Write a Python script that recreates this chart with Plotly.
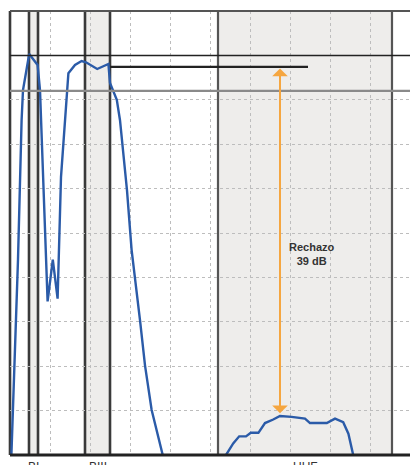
import plotly.graph_objects as go

# Frequency axis in grid divisions, response in dB
band_edges = [(0.475, 0.70), (1.875, 2.50), (5.20, 9.55)]
band_labels = ["BI", "BIII", "UHF"]

resp_x = [0.02, 0.07, 0.20, 0.29, 0.325, 0.48, 0.69, 0.75, 0.94, 1.07, 1.19, 1.275,
          1.42, 1.46, 1.625, 1.79, 1.90, 2.18, 2.46, 2.50, 2.67, 2.75, 2.925, 3.04,
          3.25, 3.375, 3.54, 3.83, 3.90,
          None,
          5.33, 5.40, 5.58, 5.73, 5.90, 6.02, 6.21, 6.375, 6.58, 6.75, 7.04, 7.375,
          7.50, 7.92, 8.125, 8.33, 8.46, 8.58, 8.62]
resp_db = [-52.0, -44.9, -28.0, -12.3, -8.9, -4.84, -6.08, -8.9, -32.7, -28.0, -32.4, -18.7,
           -10.0, -7.0, -6.08, -5.63, -5.78, -6.53, -5.97, -8.1, -10.0, -12.3, -20.2, -26.9,
           -34.8, -39.9, -44.9, -50.0, -51.5,
           None,
           -51.5, -50.0, -48.7, -47.9, -47.9, -47.5, -47.5, -46.4, -46.0, -45.6, -45.7, -45.9,
           -46.4, -46.4, -45.9, -46.3, -47.6, -50.0, -51.5]

ref_level = -6.3          # passband reference level
rejection_db = 39         # rejection in UHF
marker_x = 6.75
level_lines = [(-5.0, "#222222", 1.5), (-9.0, "#8a8a8a", 2.2)]

fig = go.Figure()
fig.add_trace(go.Scatter(x=resp_x, y=resp_db, mode="lines",
                         line=dict(color="#2b5ba8", width=2.4),
                         connectgaps=False, hoverinfo="skip", showlegend=False))

shapes = []
# shaded bands
for x0, x1 in band_edges:
    shapes.append(dict(type="rect", xref="x", yref="paper", x0=x0, x1=x1, y0=0, y1=1,
                       fillcolor="#eeedeb", line_width=0, layer="below"))
# band edges
for i, (x0, x1) in enumerate(band_edges):
    w = 2.6 if i < 2 else 2.2
    col = "#3a3a3a" if i < 2 else "#555555"
    for xv in (x0, x1):
        shapes.append(dict(type="line", xref="x", yref="paper", x0=xv, x1=xv, y0=0, y1=1,
                           line=dict(color=col, width=w), layer="between"))
# level lines across the whole width
for yv, col, w in level_lines:
    shapes.append(dict(type="line", xref="paper", yref="y", x0=0, x1=1, y0=yv, y1=yv,
                       line=dict(color=col, width=w), layer="above"))
# passband reference line
shapes.append(dict(type="line", xref="x", yref="y", x0=band_edges[1][1], x1=7.45,
                   y0=ref_level, y1=ref_level, line=dict(color="#222222", width=2.2)))
# frame
shapes.append(dict(type="line", xref="paper", yref="paper", x0=0, x1=1, y0=1, y1=1,
                   line=dict(color="#555555", width=2.2)))
shapes.append(dict(type="line", xref="paper", yref="paper", x0=0, x1=0, y0=0, y1=1,
                   line=dict(color="#3a3a3a", width=2.6), layer="below"))
shapes.append(dict(type="line", xref="paper", yref="paper", x0=0, x1=1, y0=0, y1=0,
                   line=dict(color="#222222", width=3)))

annotations = [
    dict(x=marker_x, y=ref_level - rejection_db, ax=marker_x, ay=ref_level,
         xref="x", yref="y", axref="x", ayref="y", text="", showarrow=True,
         arrowhead=1, startarrowhead=1, arrowside="end+start", arrowsize=1.3,
         startarrowsize=1.3, arrowwidth=2, arrowcolor="#f5a640",
         standoff=0, startstandoff=0),
    dict(x=7.55, y=-27.4, xref="x", yref="y", showarrow=False,
         text=f"<b>Rechazo<br>{rejection_db} dB</b>",
         font=dict(family="Liberation Sans, Arial, sans-serif", size=11, color="#333333")),
]
for (x0, x1), lab in zip(band_edges, band_labels):
    annotations.append(dict(x=(x0 + x1) / 2, y=-0.006, xref="x", yref="paper",
                            yanchor="top", showarrow=False, text=lab,
                            font=dict(family="Liberation Sans, Arial, sans-serif",
                                      size=12, color="#333333")))

fig.update_layout(
    width=410, height=465,
    margin=dict(l=10, r=0, t=11, b=10),
    paper_bgcolor="white", plot_bgcolor="white",
    shapes=shapes, annotations=annotations, showlegend=False,
)
fig.update_xaxes(range=[0, 10], dtick=1, tick0=0, showticklabels=False, ticks="",
                 showgrid=True, gridcolor="#bdbdbd", gridwidth=1, griddash="3px,3px",
                 zeroline=False, showline=False, fixedrange=True)
fig.update_yaxes(range=[-50, 0], dtick=5, tick0=0, showticklabels=False, ticks="",
                 showgrid=True, gridcolor="#bdbdbd", gridwidth=1, griddash="3px,3px",
                 zeroline=False, showline=False, fixedrange=True)

fig.write_html("out.html", config={"displayModeBar": False})
